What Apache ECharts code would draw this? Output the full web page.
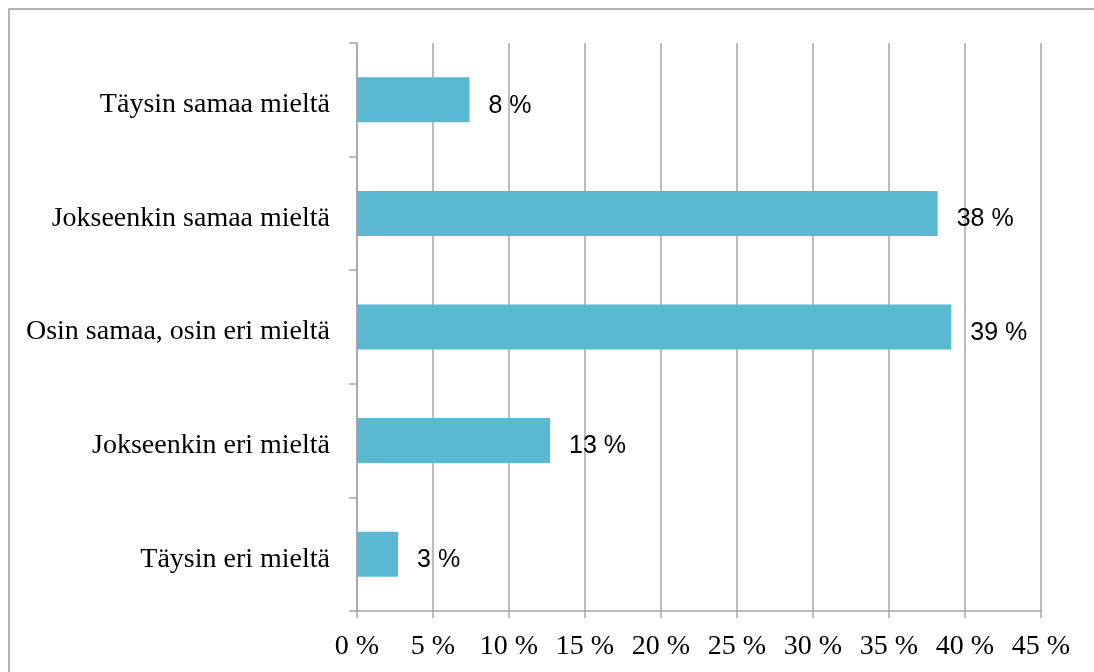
<!DOCTYPE html>
<html>
<head>
<meta charset="utf-8">
<script src="https://cdn.jsdelivr.net/npm/echarts@6/dist/echarts.min.js"></script>
<style>
html,body{margin:0;padding:0;background:#fff;}
#chart{width:1094px;height:672px;}
</style>
</head>
<body>
<div id="chart"></div>
<script>
const categories = ['Täysin samaa mieltä', 'Jokseenkin samaa mieltä', 'Osin samaa, osin eri mieltä', 'Jokseenkin eri mieltä', 'Täysin eri mieltä'];
const values = [7.4, 38.2, 39.1, 12.7, 2.7];
const valueLabels = ['8 %', '38 %', '39 %', '13 %', '3 %'];
const tickLabels = ['0 %', '5 %', '10 %', '15 %', '20 %', '25 %', '30 %', '35 %', '40 %', '45 %'];

const serif = '"Liberation Serif", "DejaVu Serif", serif';
const sans = '"Liberation Sans", sans-serif';
const gray = '#a6a6a6';

const chart = echarts.init(document.getElementById('chart'), null, {renderer: 'canvas'});
chart.setOption({
  backgroundColor: '#fff',
  animation: false,
  graphic: [{
    type: 'rect',
    shape: {x: 9, y: 9, width: 1200, height: 800},
    style: {fill: 'none', stroke: '#9a9a9a', lineWidth: 1.5},
    silent: true
  }],
  grid: {left: 357, right: 53, top: 43, bottom: 61, containLabel: false},
  xAxis: {
    type: 'value',
    min: 0, max: 45, interval: 5,
    axisLine: {show: true, lineStyle: {color: gray, width: 1.5}},
    axisTick: {show: true, length: 7, lineStyle: {color: gray, width: 1.5}},
    splitLine: {show: true, lineStyle: {color: gray, width: 1.5}},
    axisLabel: {
      margin: 22,
      color: '#000',
      fontFamily: serif,
      fontSize: 28,
      formatter: function (v) { return tickLabels[Math.round(v / 5)]; }
    }
  },
  yAxis: {
    type: 'category',
    data: categories,
    inverse: true,
    axisLine: {show: true, lineStyle: {color: gray, width: 1.5}},
    axisTick: {show: true, length: 8, lineStyle: {color: gray, width: 1.5}},
    splitLine: {show: false},
    axisLabel: {
      margin: 27,
      color: '#000',
      fontFamily: serif,
      fontSize: 28,
      formatter: function (v) { return '{c|' + v + '}'; },
      rich: {
        c: {fontFamily: serif, fontSize: 28, color: '#000', padding: [10, 0, 0, 0]}
      }
    }
  },
  series: [{
    type: 'bar',
    data: values,
    barWidth: 45,
    itemStyle: {color: '#5bb8d1'},
    label: {
      show: true,
      position: 'right',
      distance: 19,
      offset: [0, 6],
      color: '#000',
      fontFamily: sans,
      fontSize: 25,
      formatter: function (p) { return valueLabels[p.dataIndex]; }
    }
  }]
});
</script>
</body>
</html>
